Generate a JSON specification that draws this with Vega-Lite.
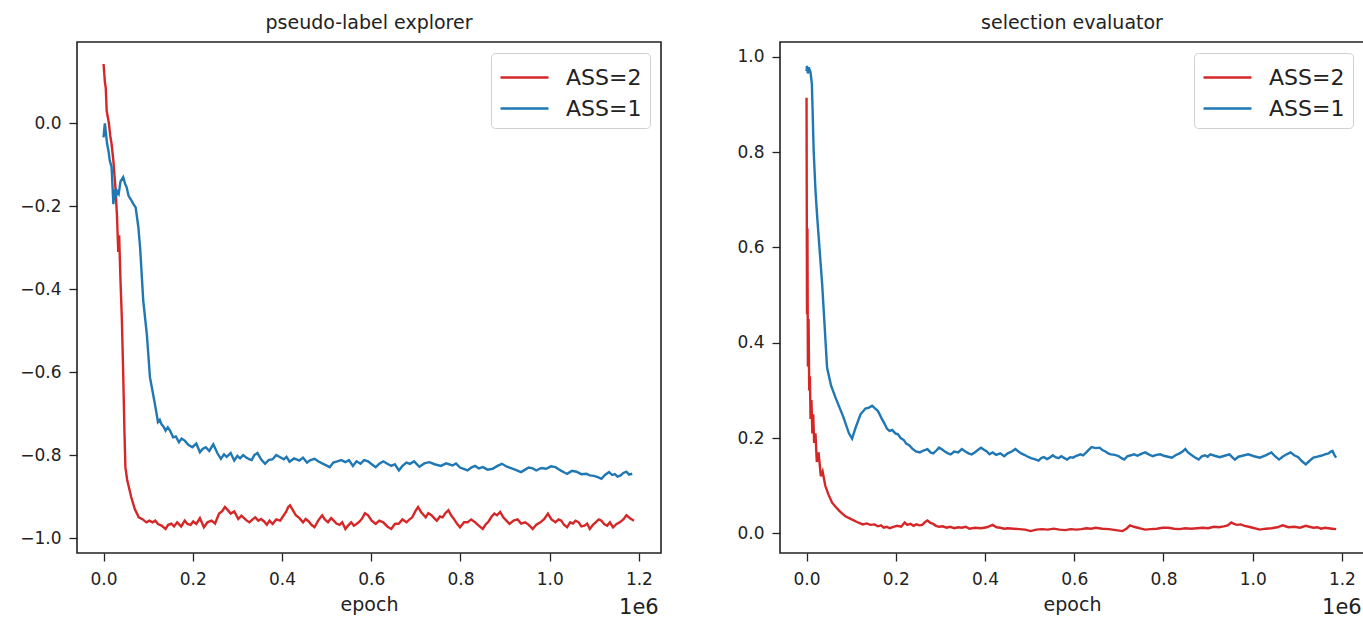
{
  "$schema": "https://vega.github.io/schema/vega-lite/v6.json",
  "background": "white",
  "padding": {"left": 18, "top": 13, "right": 0, "bottom": 0},
  "spacing": 74,
  "config": {
    "font": "DejaVu Sans",
    "view": {"stroke": "#222", "strokeWidth": 1.6},
    "axis": {
      "grid": false,
      "domain": false,
      "tickColor": "#222",
      "tickSize": 8,
      "tickWidth": 1.3,
      "labelPadding": 8,
      "labelFont": "DejaVu Sans",
      "labelFontSize": 17,
      "labelColor": "#222",
      "titleFont": "DejaVu Sans",
      "titleFontSize": 19,
      "titleFontWeight": "normal",
      "titleColor": "#222"
    },
    "axisX": {"labelPadding": 10},
    "title": {"font": "DejaVu Sans", "fontSize": 19, "fontWeight": "normal", "color": "#222", "offset": 9},
    "legend": {
      "orient": "top-right",
      "offset": 11,
      "title": null,
      "labelFont": "DejaVu Sans",
      "labelFontSize": 22,
      "labelColor": "#222",
      "strokeColor": "#d0d0d0",
      "fillColor": "white",
      "cornerRadius": 4,
      "padding": 8,
      "rowPadding": 3,
      "symbolType": "M-1.6,0H1.6",
      "symbolSize": 900,
      "symbolStrokeWidth": 2.6,
      "symbolOffset": 9,
      "labelOffset": 25
    }
  },
  "datasets": {
    "left": [
      {"series": "ASS=2", "epoch": 0, "value": 0.143},
      {"series": "ASS=2", "epoch": 3000, "value": 0.10},
      {"series": "ASS=2", "epoch": 5000, "value": 0.085},
      {"series": "ASS=2", "epoch": 7000, "value": 0.03},
      {"series": "ASS=2", "epoch": 12000, "value": 0.0},
      {"series": "ASS=2", "epoch": 15000, "value": -0.03},
      {"series": "ASS=2", "epoch": 18000, "value": -0.05},
      {"series": "ASS=2", "epoch": 22000, "value": -0.09},
      {"series": "ASS=2", "epoch": 26000, "value": -0.146},
      {"series": "ASS=2", "epoch": 30000, "value": -0.22},
      {"series": "ASS=2", "epoch": 33000, "value": -0.31},
      {"series": "ASS=2", "epoch": 35000, "value": -0.27},
      {"series": "ASS=2", "epoch": 38000, "value": -0.38},
      {"series": "ASS=2", "epoch": 41000, "value": -0.47},
      {"series": "ASS=2", "epoch": 44000, "value": -0.60},
      {"series": "ASS=2", "epoch": 47000, "value": -0.75},
      {"series": "ASS=2", "epoch": 49000, "value": -0.829},
      {"series": "ASS=2", "epoch": 53000, "value": -0.86},
      {"series": "ASS=2", "epoch": 62000, "value": -0.901},
      {"series": "ASS=2", "epoch": 70000, "value": -0.93},
      {"series": "ASS=2", "epoch": 79000, "value": -0.950},
      {"series": "ASS=2", "epoch": 88000, "value": -0.955},
      {"series": "ASS=2", "epoch": 96000, "value": -0.962},
      {"series": "ASS=2", "epoch": 103000, "value": -0.958},
      {"series": "ASS=2", "epoch": 110000, "value": -0.962},
      {"series": "ASS=2", "epoch": 116000, "value": -0.958},
      {"series": "ASS=2", "epoch": 122000, "value": -0.966},
      {"series": "ASS=2", "epoch": 130000, "value": -0.970},
      {"series": "ASS=2", "epoch": 139000, "value": -0.978},
      {"series": "ASS=2", "epoch": 145000, "value": -0.968},
      {"series": "ASS=2", "epoch": 152000, "value": -0.965},
      {"series": "ASS=2", "epoch": 158000, "value": -0.972},
      {"series": "ASS=2", "epoch": 165000, "value": -0.962},
      {"series": "ASS=2", "epoch": 174000, "value": -0.972},
      {"series": "ASS=2", "epoch": 182000, "value": -0.958},
      {"series": "ASS=2", "epoch": 188000, "value": -0.966},
      {"series": "ASS=2", "epoch": 195000, "value": -0.968},
      {"series": "ASS=2", "epoch": 201000, "value": -0.960},
      {"series": "ASS=2", "epoch": 208000, "value": -0.966},
      {"series": "ASS=2", "epoch": 216000, "value": -0.952},
      {"series": "ASS=2", "epoch": 225000, "value": -0.974},
      {"series": "ASS=2", "epoch": 233000, "value": -0.962},
      {"series": "ASS=2", "epoch": 242000, "value": -0.958},
      {"series": "ASS=2", "epoch": 250000, "value": -0.965},
      {"series": "ASS=2", "epoch": 259000, "value": -0.941},
      {"series": "ASS=2", "epoch": 266000, "value": -0.935},
      {"series": "ASS=2", "epoch": 272000, "value": -0.925},
      {"series": "ASS=2", "epoch": 278000, "value": -0.932},
      {"series": "ASS=2", "epoch": 285000, "value": -0.941},
      {"series": "ASS=2", "epoch": 293000, "value": -0.936},
      {"series": "ASS=2", "epoch": 302000, "value": -0.954},
      {"series": "ASS=2", "epoch": 309000, "value": -0.946},
      {"series": "ASS=2", "epoch": 315000, "value": -0.952},
      {"series": "ASS=2", "epoch": 321000, "value": -0.958},
      {"series": "ASS=2", "epoch": 327000, "value": -0.962},
      {"series": "ASS=2", "epoch": 334000, "value": -0.955},
      {"series": "ASS=2", "epoch": 340000, "value": -0.950},
      {"series": "ASS=2", "epoch": 347000, "value": -0.958},
      {"series": "ASS=2", "epoch": 353000, "value": -0.954},
      {"series": "ASS=2", "epoch": 360000, "value": -0.960},
      {"series": "ASS=2", "epoch": 366000, "value": -0.968},
      {"series": "ASS=2", "epoch": 372000, "value": -0.958},
      {"series": "ASS=2", "epoch": 379000, "value": -0.966},
      {"series": "ASS=2", "epoch": 387000, "value": -0.955},
      {"series": "ASS=2", "epoch": 396000, "value": -0.958},
      {"series": "ASS=2", "epoch": 402000, "value": -0.948},
      {"series": "ASS=2", "epoch": 409000, "value": -0.937},
      {"series": "ASS=2", "epoch": 414000, "value": -0.925},
      {"series": "ASS=2", "epoch": 418000, "value": -0.921},
      {"series": "ASS=2", "epoch": 424000, "value": -0.932},
      {"series": "ASS=2", "epoch": 431000, "value": -0.945},
      {"series": "ASS=2", "epoch": 439000, "value": -0.952},
      {"series": "ASS=2", "epoch": 447000, "value": -0.962},
      {"series": "ASS=2", "epoch": 453000, "value": -0.954},
      {"series": "ASS=2", "epoch": 460000, "value": -0.960},
      {"series": "ASS=2", "epoch": 466000, "value": -0.968},
      {"series": "ASS=2", "epoch": 473000, "value": -0.974},
      {"series": "ASS=2", "epoch": 481000, "value": -0.958},
      {"series": "ASS=2", "epoch": 490000, "value": -0.945},
      {"series": "ASS=2", "epoch": 496000, "value": -0.955},
      {"series": "ASS=2", "epoch": 503000, "value": -0.962},
      {"series": "ASS=2", "epoch": 510000, "value": -0.952},
      {"series": "ASS=2", "epoch": 516000, "value": -0.958},
      {"series": "ASS=2", "epoch": 522000, "value": -0.965},
      {"series": "ASS=2", "epoch": 529000, "value": -0.968},
      {"series": "ASS=2", "epoch": 535000, "value": -0.962},
      {"series": "ASS=2", "epoch": 542000, "value": -0.978},
      {"series": "ASS=2", "epoch": 548000, "value": -0.970},
      {"series": "ASS=2", "epoch": 555000, "value": -0.962},
      {"series": "ASS=2", "epoch": 561000, "value": -0.970},
      {"series": "ASS=2", "epoch": 567000, "value": -0.966},
      {"series": "ASS=2", "epoch": 574000, "value": -0.960},
      {"series": "ASS=2", "epoch": 580000, "value": -0.952},
      {"series": "ASS=2", "epoch": 586000, "value": -0.940},
      {"series": "ASS=2", "epoch": 593000, "value": -0.945},
      {"series": "ASS=2", "epoch": 601000, "value": -0.958},
      {"series": "ASS=2", "epoch": 610000, "value": -0.966},
      {"series": "ASS=2", "epoch": 618000, "value": -0.958},
      {"series": "ASS=2", "epoch": 627000, "value": -0.962},
      {"series": "ASS=2", "epoch": 636000, "value": -0.972},
      {"series": "ASS=2", "epoch": 645000, "value": -0.978},
      {"series": "ASS=2", "epoch": 653000, "value": -0.966},
      {"series": "ASS=2", "epoch": 662000, "value": -0.965},
      {"series": "ASS=2", "epoch": 670000, "value": -0.955},
      {"series": "ASS=2", "epoch": 679000, "value": -0.962},
      {"series": "ASS=2", "epoch": 686000, "value": -0.955},
      {"series": "ASS=2", "epoch": 692000, "value": -0.950},
      {"series": "ASS=2", "epoch": 699000, "value": -0.935},
      {"series": "ASS=2", "epoch": 705000, "value": -0.925},
      {"series": "ASS=2", "epoch": 712000, "value": -0.938},
      {"series": "ASS=2", "epoch": 722000, "value": -0.950},
      {"series": "ASS=2", "epoch": 728000, "value": -0.940},
      {"series": "ASS=2", "epoch": 735000, "value": -0.945},
      {"series": "ASS=2", "epoch": 741000, "value": -0.952},
      {"series": "ASS=2", "epoch": 747000, "value": -0.958},
      {"series": "ASS=2", "epoch": 754000, "value": -0.948},
      {"series": "ASS=2", "epoch": 760000, "value": -0.950},
      {"series": "ASS=2", "epoch": 766000, "value": -0.940},
      {"series": "ASS=2", "epoch": 773000, "value": -0.933},
      {"series": "ASS=2", "epoch": 779000, "value": -0.945},
      {"series": "ASS=2", "epoch": 786000, "value": -0.955},
      {"series": "ASS=2", "epoch": 792000, "value": -0.965},
      {"series": "ASS=2", "epoch": 799000, "value": -0.974},
      {"series": "ASS=2", "epoch": 808000, "value": -0.962},
      {"series": "ASS=2", "epoch": 816000, "value": -0.962},
      {"series": "ASS=2", "epoch": 824000, "value": -0.955},
      {"series": "ASS=2", "epoch": 833000, "value": -0.962},
      {"series": "ASS=2", "epoch": 841000, "value": -0.970},
      {"series": "ASS=2", "epoch": 850000, "value": -0.978},
      {"series": "ASS=2", "epoch": 856000, "value": -0.968},
      {"series": "ASS=2", "epoch": 863000, "value": -0.960},
      {"series": "ASS=2", "epoch": 870000, "value": -0.948},
      {"series": "ASS=2", "epoch": 876000, "value": -0.941},
      {"series": "ASS=2", "epoch": 882000, "value": -0.945},
      {"series": "ASS=2", "epoch": 889000, "value": -0.937},
      {"series": "ASS=2", "epoch": 896000, "value": -0.950},
      {"series": "ASS=2", "epoch": 903000, "value": -0.958},
      {"series": "ASS=2", "epoch": 910000, "value": -0.966},
      {"series": "ASS=2", "epoch": 919000, "value": -0.958},
      {"series": "ASS=2", "epoch": 928000, "value": -0.955},
      {"series": "ASS=2", "epoch": 936000, "value": -0.965},
      {"series": "ASS=2", "epoch": 945000, "value": -0.962},
      {"series": "ASS=2", "epoch": 953000, "value": -0.968},
      {"series": "ASS=2", "epoch": 962000, "value": -0.978},
      {"series": "ASS=2", "epoch": 970000, "value": -0.968},
      {"series": "ASS=2", "epoch": 979000, "value": -0.962},
      {"series": "ASS=2", "epoch": 987000, "value": -0.955},
      {"series": "ASS=2", "epoch": 996000, "value": -0.941},
      {"series": "ASS=2", "epoch": 1004000, "value": -0.955},
      {"series": "ASS=2", "epoch": 1013000, "value": -0.962},
      {"series": "ASS=2", "epoch": 1020000, "value": -0.955},
      {"series": "ASS=2", "epoch": 1026000, "value": -0.958},
      {"series": "ASS=2", "epoch": 1032000, "value": -0.968},
      {"series": "ASS=2", "epoch": 1039000, "value": -0.974},
      {"series": "ASS=2", "epoch": 1046000, "value": -0.962},
      {"series": "ASS=2", "epoch": 1052000, "value": -0.965},
      {"series": "ASS=2", "epoch": 1058000, "value": -0.958},
      {"series": "ASS=2", "epoch": 1065000, "value": -0.962},
      {"series": "ASS=2", "epoch": 1071000, "value": -0.972},
      {"series": "ASS=2", "epoch": 1078000, "value": -0.970},
      {"series": "ASS=2", "epoch": 1084000, "value": -0.965},
      {"series": "ASS=2", "epoch": 1090000, "value": -0.978},
      {"series": "ASS=2", "epoch": 1097000, "value": -0.968},
      {"series": "ASS=2", "epoch": 1103000, "value": -0.962},
      {"series": "ASS=2", "epoch": 1110000, "value": -0.955},
      {"series": "ASS=2", "epoch": 1116000, "value": -0.958},
      {"series": "ASS=2", "epoch": 1122000, "value": -0.966},
      {"series": "ASS=2", "epoch": 1129000, "value": -0.970},
      {"series": "ASS=2", "epoch": 1135000, "value": -0.962},
      {"series": "ASS=2", "epoch": 1142000, "value": -0.974},
      {"series": "ASS=2", "epoch": 1150000, "value": -0.966},
      {"series": "ASS=2", "epoch": 1157000, "value": -0.962},
      {"series": "ASS=2", "epoch": 1165000, "value": -0.955},
      {"series": "ASS=2", "epoch": 1172000, "value": -0.945},
      {"series": "ASS=2", "epoch": 1180000, "value": -0.952},
      {"series": "ASS=2", "epoch": 1189000, "value": -0.958},
      {"series": "ASS=1", "epoch": 0, "value": -0.034},
      {"series": "ASS=1", "epoch": 2000, "value": -0.01},
      {"series": "ASS=1", "epoch": 3000, "value": 0.0},
      {"series": "ASS=1", "epoch": 5000, "value": -0.02},
      {"series": "ASS=1", "epoch": 8000, "value": -0.05},
      {"series": "ASS=1", "epoch": 11000, "value": -0.066},
      {"series": "ASS=1", "epoch": 14000, "value": -0.09},
      {"series": "ASS=1", "epoch": 18000, "value": -0.106},
      {"series": "ASS=1", "epoch": 20000, "value": -0.15},
      {"series": "ASS=1", "epoch": 22000, "value": -0.195},
      {"series": "ASS=1", "epoch": 25000, "value": -0.16},
      {"series": "ASS=1", "epoch": 28000, "value": -0.18},
      {"series": "ASS=1", "epoch": 30000, "value": -0.163},
      {"series": "ASS=1", "epoch": 34000, "value": -0.17},
      {"series": "ASS=1", "epoch": 38000, "value": -0.14},
      {"series": "ASS=1", "epoch": 44000, "value": -0.13},
      {"series": "ASS=1", "epoch": 48000, "value": -0.145},
      {"series": "ASS=1", "epoch": 52000, "value": -0.155},
      {"series": "ASS=1", "epoch": 56000, "value": -0.175},
      {"series": "ASS=1", "epoch": 62000, "value": -0.185},
      {"series": "ASS=1", "epoch": 67000, "value": -0.195},
      {"series": "ASS=1", "epoch": 72000, "value": -0.203},
      {"series": "ASS=1", "epoch": 78000, "value": -0.25},
      {"series": "ASS=1", "epoch": 82000, "value": -0.30},
      {"series": "ASS=1", "epoch": 89000, "value": -0.428},
      {"series": "ASS=1", "epoch": 97000, "value": -0.508},
      {"series": "ASS=1", "epoch": 104000, "value": -0.612},
      {"series": "ASS=1", "epoch": 115000, "value": -0.676},
      {"series": "ASS=1", "epoch": 122000, "value": -0.720},
      {"series": "ASS=1", "epoch": 126000, "value": -0.715},
      {"series": "ASS=1", "epoch": 130000, "value": -0.726},
      {"series": "ASS=1", "epoch": 135000, "value": -0.732},
      {"series": "ASS=1", "epoch": 139000, "value": -0.741},
      {"series": "ASS=1", "epoch": 144000, "value": -0.733},
      {"series": "ASS=1", "epoch": 149000, "value": -0.741},
      {"series": "ASS=1", "epoch": 156000, "value": -0.757},
      {"series": "ASS=1", "epoch": 162000, "value": -0.755},
      {"series": "ASS=1", "epoch": 169000, "value": -0.769},
      {"series": "ASS=1", "epoch": 175000, "value": -0.760},
      {"series": "ASS=1", "epoch": 182000, "value": -0.765},
      {"series": "ASS=1", "epoch": 190000, "value": -0.775},
      {"series": "ASS=1", "epoch": 199000, "value": -0.781},
      {"series": "ASS=1", "epoch": 208000, "value": -0.772},
      {"series": "ASS=1", "epoch": 216000, "value": -0.793},
      {"series": "ASS=1", "epoch": 222000, "value": -0.785},
      {"series": "ASS=1", "epoch": 229000, "value": -0.781},
      {"series": "ASS=1", "epoch": 237000, "value": -0.790},
      {"series": "ASS=1", "epoch": 246000, "value": -0.774},
      {"series": "ASS=1", "epoch": 255000, "value": -0.795},
      {"series": "ASS=1", "epoch": 263000, "value": -0.809},
      {"series": "ASS=1", "epoch": 270000, "value": -0.798},
      {"series": "ASS=1", "epoch": 276000, "value": -0.804},
      {"series": "ASS=1", "epoch": 285000, "value": -0.795},
      {"series": "ASS=1", "epoch": 293000, "value": -0.813},
      {"series": "ASS=1", "epoch": 300000, "value": -0.802},
      {"series": "ASS=1", "epoch": 306000, "value": -0.808},
      {"series": "ASS=1", "epoch": 313000, "value": -0.800},
      {"series": "ASS=1", "epoch": 319000, "value": -0.805},
      {"series": "ASS=1", "epoch": 326000, "value": -0.810},
      {"series": "ASS=1", "epoch": 332000, "value": -0.812},
      {"series": "ASS=1", "epoch": 338000, "value": -0.800},
      {"series": "ASS=1", "epoch": 345000, "value": -0.795},
      {"series": "ASS=1", "epoch": 353000, "value": -0.810},
      {"series": "ASS=1", "epoch": 362000, "value": -0.821},
      {"series": "ASS=1", "epoch": 370000, "value": -0.812},
      {"series": "ASS=1", "epoch": 379000, "value": -0.810},
      {"series": "ASS=1", "epoch": 387000, "value": -0.800},
      {"series": "ASS=1", "epoch": 396000, "value": -0.805},
      {"series": "ASS=1", "epoch": 404000, "value": -0.810},
      {"series": "ASS=1", "epoch": 410000, "value": -0.804},
      {"series": "ASS=1", "epoch": 417000, "value": -0.816},
      {"series": "ASS=1", "epoch": 427000, "value": -0.808},
      {"series": "ASS=1", "epoch": 439000, "value": -0.813},
      {"series": "ASS=1", "epoch": 447000, "value": -0.806},
      {"series": "ASS=1", "epoch": 456000, "value": -0.818},
      {"series": "ASS=1", "epoch": 464000, "value": -0.812},
      {"series": "ASS=1", "epoch": 473000, "value": -0.809},
      {"series": "ASS=1", "epoch": 481000, "value": -0.815},
      {"series": "ASS=1", "epoch": 490000, "value": -0.820},
      {"series": "ASS=1", "epoch": 498000, "value": -0.824},
      {"series": "ASS=1", "epoch": 507000, "value": -0.829},
      {"series": "ASS=1", "epoch": 515000, "value": -0.818},
      {"series": "ASS=1", "epoch": 524000, "value": -0.815},
      {"series": "ASS=1", "epoch": 533000, "value": -0.812},
      {"series": "ASS=1", "epoch": 542000, "value": -0.817},
      {"series": "ASS=1", "epoch": 550000, "value": -0.812},
      {"series": "ASS=1", "epoch": 559000, "value": -0.826},
      {"series": "ASS=1", "epoch": 567000, "value": -0.815},
      {"series": "ASS=1", "epoch": 576000, "value": -0.821},
      {"series": "ASS=1", "epoch": 584000, "value": -0.812},
      {"series": "ASS=1", "epoch": 593000, "value": -0.815},
      {"series": "ASS=1", "epoch": 601000, "value": -0.822},
      {"series": "ASS=1", "epoch": 610000, "value": -0.829},
      {"series": "ASS=1", "epoch": 619000, "value": -0.820},
      {"series": "ASS=1", "epoch": 627000, "value": -0.815},
      {"series": "ASS=1", "epoch": 636000, "value": -0.821},
      {"series": "ASS=1", "epoch": 645000, "value": -0.826},
      {"series": "ASS=1", "epoch": 653000, "value": -0.822},
      {"series": "ASS=1", "epoch": 662000, "value": -0.837},
      {"series": "ASS=1", "epoch": 670000, "value": -0.826},
      {"series": "ASS=1", "epoch": 679000, "value": -0.818},
      {"series": "ASS=1", "epoch": 687000, "value": -0.821},
      {"series": "ASS=1", "epoch": 696000, "value": -0.815},
      {"series": "ASS=1", "epoch": 708000, "value": -0.828},
      {"series": "ASS=1", "epoch": 719000, "value": -0.820},
      {"series": "ASS=1", "epoch": 730000, "value": -0.817},
      {"series": "ASS=1", "epoch": 742000, "value": -0.822},
      {"series": "ASS=1", "epoch": 756000, "value": -0.826},
      {"series": "ASS=1", "epoch": 768000, "value": -0.820},
      {"series": "ASS=1", "epoch": 782000, "value": -0.825},
      {"series": "ASS=1", "epoch": 790000, "value": -0.820},
      {"series": "ASS=1", "epoch": 799000, "value": -0.830},
      {"series": "ASS=1", "epoch": 807000, "value": -0.833},
      {"series": "ASS=1", "epoch": 816000, "value": -0.837},
      {"series": "ASS=1", "epoch": 824000, "value": -0.830},
      {"series": "ASS=1", "epoch": 833000, "value": -0.826},
      {"series": "ASS=1", "epoch": 841000, "value": -0.832},
      {"series": "ASS=1", "epoch": 850000, "value": -0.829},
      {"series": "ASS=1", "epoch": 861000, "value": -0.835},
      {"series": "ASS=1", "epoch": 872000, "value": -0.833},
      {"series": "ASS=1", "epoch": 883000, "value": -0.826},
      {"series": "ASS=1", "epoch": 893000, "value": -0.821},
      {"series": "ASS=1", "epoch": 904000, "value": -0.828},
      {"series": "ASS=1", "epoch": 915000, "value": -0.832},
      {"series": "ASS=1", "epoch": 925000, "value": -0.836},
      {"series": "ASS=1", "epoch": 936000, "value": -0.841},
      {"series": "ASS=1", "epoch": 945000, "value": -0.835},
      {"series": "ASS=1", "epoch": 953000, "value": -0.830},
      {"series": "ASS=1", "epoch": 962000, "value": -0.832},
      {"series": "ASS=1", "epoch": 970000, "value": -0.837},
      {"series": "ASS=1", "epoch": 981000, "value": -0.831},
      {"series": "ASS=1", "epoch": 992000, "value": -0.833},
      {"series": "ASS=1", "epoch": 1003000, "value": -0.827},
      {"series": "ASS=1", "epoch": 1013000, "value": -0.829},
      {"series": "ASS=1", "epoch": 1020000, "value": -0.834},
      {"series": "ASS=1", "epoch": 1026000, "value": -0.838},
      {"series": "ASS=1", "epoch": 1033000, "value": -0.842},
      {"series": "ASS=1", "epoch": 1039000, "value": -0.845},
      {"series": "ASS=1", "epoch": 1050000, "value": -0.838},
      {"series": "ASS=1", "epoch": 1060000, "value": -0.840},
      {"series": "ASS=1", "epoch": 1071000, "value": -0.846},
      {"series": "ASS=1", "epoch": 1082000, "value": -0.845},
      {"series": "ASS=1", "epoch": 1090000, "value": -0.849},
      {"series": "ASS=1", "epoch": 1099000, "value": -0.850},
      {"series": "ASS=1", "epoch": 1108000, "value": -0.853},
      {"series": "ASS=1", "epoch": 1116000, "value": -0.857},
      {"series": "ASS=1", "epoch": 1124000, "value": -0.848},
      {"series": "ASS=1", "epoch": 1133000, "value": -0.841},
      {"series": "ASS=1", "epoch": 1140000, "value": -0.848},
      {"series": "ASS=1", "epoch": 1146000, "value": -0.846},
      {"series": "ASS=1", "epoch": 1152000, "value": -0.852},
      {"series": "ASS=1", "epoch": 1159000, "value": -0.849},
      {"series": "ASS=1", "epoch": 1165000, "value": -0.843},
      {"series": "ASS=1", "epoch": 1172000, "value": -0.840},
      {"series": "ASS=1", "epoch": 1178000, "value": -0.847},
      {"series": "ASS=1", "epoch": 1185000, "value": -0.845}
    ],
    "right": [
      {"series": "ASS=2", "epoch": 0, "value": 0.914},
      {"series": "ASS=2", "epoch": 1000, "value": 0.46},
      {"series": "ASS=2", "epoch": 2000, "value": 0.64},
      {"series": "ASS=2", "epoch": 3000, "value": 0.35},
      {"series": "ASS=2", "epoch": 4500, "value": 0.45},
      {"series": "ASS=2", "epoch": 6000, "value": 0.30},
      {"series": "ASS=2", "epoch": 7500, "value": 0.33},
      {"series": "ASS=2", "epoch": 9000, "value": 0.24},
      {"series": "ASS=2", "epoch": 11000, "value": 0.28},
      {"series": "ASS=2", "epoch": 13000, "value": 0.21},
      {"series": "ASS=2", "epoch": 15000, "value": 0.25},
      {"series": "ASS=2", "epoch": 17000, "value": 0.19},
      {"series": "ASS=2", "epoch": 20000, "value": 0.21},
      {"series": "ASS=2", "epoch": 23000, "value": 0.15},
      {"series": "ASS=2", "epoch": 27000, "value": 0.17},
      {"series": "ASS=2", "epoch": 32000, "value": 0.12},
      {"series": "ASS=2", "epoch": 36000, "value": 0.13},
      {"series": "ASS=2", "epoch": 42000, "value": 0.10},
      {"series": "ASS=2", "epoch": 49000, "value": 0.082},
      {"series": "ASS=2", "epoch": 57000, "value": 0.065},
      {"series": "ASS=2", "epoch": 65000, "value": 0.056},
      {"series": "ASS=2", "epoch": 74000, "value": 0.047},
      {"series": "ASS=2", "epoch": 87000, "value": 0.036},
      {"series": "ASS=2", "epoch": 100000, "value": 0.030},
      {"series": "ASS=2", "epoch": 113000, "value": 0.024},
      {"series": "ASS=2", "epoch": 126000, "value": 0.019},
      {"series": "ASS=2", "epoch": 135000, "value": 0.021},
      {"series": "ASS=2", "epoch": 143000, "value": 0.018},
      {"series": "ASS=2", "epoch": 152000, "value": 0.019},
      {"series": "ASS=2", "epoch": 160000, "value": 0.015},
      {"series": "ASS=2", "epoch": 167000, "value": 0.017},
      {"series": "ASS=2", "epoch": 173000, "value": 0.012},
      {"series": "ASS=2", "epoch": 180000, "value": 0.014},
      {"series": "ASS=2", "epoch": 186000, "value": 0.011},
      {"series": "ASS=2", "epoch": 195000, "value": 0.014},
      {"series": "ASS=2", "epoch": 203000, "value": 0.016},
      {"series": "ASS=2", "epoch": 212000, "value": 0.014},
      {"series": "ASS=2", "epoch": 220000, "value": 0.023},
      {"series": "ASS=2", "epoch": 226000, "value": 0.018},
      {"series": "ASS=2", "epoch": 233000, "value": 0.020},
      {"series": "ASS=2", "epoch": 240000, "value": 0.016},
      {"series": "ASS=2", "epoch": 246000, "value": 0.019},
      {"series": "ASS=2", "epoch": 253000, "value": 0.017},
      {"series": "ASS=2", "epoch": 259000, "value": 0.018},
      {"series": "ASS=2", "epoch": 266000, "value": 0.024},
      {"series": "ASS=2", "epoch": 271000, "value": 0.027},
      {"series": "ASS=2", "epoch": 278000, "value": 0.022},
      {"series": "ASS=2", "epoch": 284000, "value": 0.020},
      {"series": "ASS=2", "epoch": 290000, "value": 0.016},
      {"series": "ASS=2", "epoch": 297000, "value": 0.014},
      {"series": "ASS=2", "epoch": 305000, "value": 0.015},
      {"series": "ASS=2", "epoch": 314000, "value": 0.012},
      {"series": "ASS=2", "epoch": 322000, "value": 0.014},
      {"series": "ASS=2", "epoch": 331000, "value": 0.011},
      {"series": "ASS=2", "epoch": 340000, "value": 0.013},
      {"series": "ASS=2", "epoch": 348000, "value": 0.012},
      {"series": "ASS=2", "epoch": 357000, "value": 0.014},
      {"series": "ASS=2", "epoch": 365000, "value": 0.010},
      {"series": "ASS=2", "epoch": 378000, "value": 0.012},
      {"series": "ASS=2", "epoch": 391000, "value": 0.011},
      {"series": "ASS=2", "epoch": 404000, "value": 0.013},
      {"series": "ASS=2", "epoch": 417000, "value": 0.018},
      {"series": "ASS=2", "epoch": 426000, "value": 0.013},
      {"series": "ASS=2", "epoch": 434000, "value": 0.012},
      {"series": "ASS=2", "epoch": 443000, "value": 0.010},
      {"series": "ASS=2", "epoch": 451000, "value": 0.011},
      {"series": "ASS=2", "epoch": 464000, "value": 0.010},
      {"series": "ASS=2", "epoch": 477000, "value": 0.009},
      {"series": "ASS=2", "epoch": 490000, "value": 0.008},
      {"series": "ASS=2", "epoch": 502000, "value": 0.005},
      {"series": "ASS=2", "epoch": 515000, "value": 0.008},
      {"series": "ASS=2", "epoch": 528000, "value": 0.009},
      {"series": "ASS=2", "epoch": 541000, "value": 0.008},
      {"series": "ASS=2", "epoch": 554000, "value": 0.010},
      {"series": "ASS=2", "epoch": 567000, "value": 0.008},
      {"series": "ASS=2", "epoch": 580000, "value": 0.007},
      {"series": "ASS=2", "epoch": 592000, "value": 0.009},
      {"series": "ASS=2", "epoch": 605000, "value": 0.008},
      {"series": "ASS=2", "epoch": 616000, "value": 0.009},
      {"series": "ASS=2", "epoch": 627000, "value": 0.011},
      {"series": "ASS=2", "epoch": 638000, "value": 0.010},
      {"series": "ASS=2", "epoch": 648000, "value": 0.012},
      {"series": "ASS=2", "epoch": 663000, "value": 0.010},
      {"series": "ASS=2", "epoch": 678000, "value": 0.009},
      {"series": "ASS=2", "epoch": 693000, "value": 0.007},
      {"series": "ASS=2", "epoch": 708000, "value": 0.005},
      {"series": "ASS=2", "epoch": 717000, "value": 0.010},
      {"series": "ASS=2", "epoch": 725000, "value": 0.017},
      {"series": "ASS=2", "epoch": 734000, "value": 0.014},
      {"series": "ASS=2", "epoch": 742000, "value": 0.012},
      {"series": "ASS=2", "epoch": 750000, "value": 0.010},
      {"series": "ASS=2", "epoch": 759000, "value": 0.008},
      {"series": "ASS=2", "epoch": 772000, "value": 0.009},
      {"series": "ASS=2", "epoch": 785000, "value": 0.010},
      {"series": "ASS=2", "epoch": 798000, "value": 0.012},
      {"series": "ASS=2", "epoch": 811000, "value": 0.012},
      {"series": "ASS=2", "epoch": 824000, "value": 0.010},
      {"series": "ASS=2", "epoch": 836000, "value": 0.009},
      {"series": "ASS=2", "epoch": 849000, "value": 0.011},
      {"series": "ASS=2", "epoch": 862000, "value": 0.010},
      {"series": "ASS=2", "epoch": 875000, "value": 0.011},
      {"series": "ASS=2", "epoch": 888000, "value": 0.012},
      {"series": "ASS=2", "epoch": 900000, "value": 0.011},
      {"series": "ASS=2", "epoch": 913000, "value": 0.014},
      {"series": "ASS=2", "epoch": 924000, "value": 0.013},
      {"series": "ASS=2", "epoch": 935000, "value": 0.015},
      {"series": "ASS=2", "epoch": 944000, "value": 0.017},
      {"series": "ASS=2", "epoch": 952000, "value": 0.023},
      {"series": "ASS=2", "epoch": 958000, "value": 0.020},
      {"series": "ASS=2", "epoch": 965000, "value": 0.018},
      {"series": "ASS=2", "epoch": 973000, "value": 0.019},
      {"series": "ASS=2", "epoch": 982000, "value": 0.016},
      {"series": "ASS=2", "epoch": 991000, "value": 0.014},
      {"series": "ASS=2", "epoch": 1000000, "value": 0.012},
      {"series": "ASS=2", "epoch": 1008000, "value": 0.010},
      {"series": "ASS=2", "epoch": 1016000, "value": 0.008},
      {"series": "ASS=2", "epoch": 1029000, "value": 0.010},
      {"series": "ASS=2", "epoch": 1042000, "value": 0.011},
      {"series": "ASS=2", "epoch": 1055000, "value": 0.013},
      {"series": "ASS=2", "epoch": 1067000, "value": 0.017},
      {"series": "ASS=2", "epoch": 1080000, "value": 0.013},
      {"series": "ASS=2", "epoch": 1093000, "value": 0.014},
      {"series": "ASS=2", "epoch": 1106000, "value": 0.012},
      {"series": "ASS=2", "epoch": 1119000, "value": 0.016},
      {"series": "ASS=2", "epoch": 1127000, "value": 0.014},
      {"series": "ASS=2", "epoch": 1136000, "value": 0.012},
      {"series": "ASS=2", "epoch": 1145000, "value": 0.013},
      {"series": "ASS=2", "epoch": 1153000, "value": 0.010},
      {"series": "ASS=2", "epoch": 1162000, "value": 0.012},
      {"series": "ASS=2", "epoch": 1170000, "value": 0.011},
      {"series": "ASS=2", "epoch": 1178000, "value": 0.010},
      {"series": "ASS=2", "epoch": 1187000, "value": 0.009},
      {"series": "ASS=1", "epoch": 0, "value": 0.970},
      {"series": "ASS=1", "epoch": 1000, "value": 0.981},
      {"series": "ASS=1", "epoch": 3000, "value": 0.965},
      {"series": "ASS=1", "epoch": 5000, "value": 0.978},
      {"series": "ASS=1", "epoch": 9000, "value": 0.967},
      {"series": "ASS=1", "epoch": 12000, "value": 0.942},
      {"series": "ASS=1", "epoch": 16000, "value": 0.802},
      {"series": "ASS=1", "epoch": 20000, "value": 0.72},
      {"series": "ASS=1", "epoch": 24000, "value": 0.662},
      {"series": "ASS=1", "epoch": 35000, "value": 0.523},
      {"series": "ASS=1", "epoch": 46000, "value": 0.348},
      {"series": "ASS=1", "epoch": 55000, "value": 0.31},
      {"series": "ASS=1", "epoch": 65000, "value": 0.285},
      {"series": "ASS=1", "epoch": 83000, "value": 0.243},
      {"series": "ASS=1", "epoch": 95000, "value": 0.210},
      {"series": "ASS=1", "epoch": 102000, "value": 0.199},
      {"series": "ASS=1", "epoch": 110000, "value": 0.222},
      {"series": "ASS=1", "epoch": 121000, "value": 0.250},
      {"series": "ASS=1", "epoch": 132000, "value": 0.262},
      {"series": "ASS=1", "epoch": 140000, "value": 0.264},
      {"series": "ASS=1", "epoch": 147000, "value": 0.268},
      {"series": "ASS=1", "epoch": 154000, "value": 0.262},
      {"series": "ASS=1", "epoch": 160000, "value": 0.257},
      {"series": "ASS=1", "epoch": 168000, "value": 0.242},
      {"series": "ASS=1", "epoch": 175000, "value": 0.230},
      {"series": "ASS=1", "epoch": 180000, "value": 0.220},
      {"series": "ASS=1", "epoch": 186000, "value": 0.215},
      {"series": "ASS=1", "epoch": 192000, "value": 0.217},
      {"series": "ASS=1", "epoch": 199000, "value": 0.210},
      {"series": "ASS=1", "epoch": 205000, "value": 0.208},
      {"series": "ASS=1", "epoch": 211000, "value": 0.200},
      {"series": "ASS=1", "epoch": 218000, "value": 0.196},
      {"series": "ASS=1", "epoch": 224000, "value": 0.188},
      {"series": "ASS=1", "epoch": 230000, "value": 0.185},
      {"series": "ASS=1", "epoch": 237000, "value": 0.178},
      {"series": "ASS=1", "epoch": 245000, "value": 0.172},
      {"series": "ASS=1", "epoch": 254000, "value": 0.170},
      {"series": "ASS=1", "epoch": 262000, "value": 0.174},
      {"series": "ASS=1", "epoch": 271000, "value": 0.177},
      {"series": "ASS=1", "epoch": 278000, "value": 0.170},
      {"series": "ASS=1", "epoch": 284000, "value": 0.168},
      {"series": "ASS=1", "epoch": 291000, "value": 0.174},
      {"series": "ASS=1", "epoch": 297000, "value": 0.180},
      {"series": "ASS=1", "epoch": 304000, "value": 0.176},
      {"series": "ASS=1", "epoch": 310000, "value": 0.172},
      {"series": "ASS=1", "epoch": 317000, "value": 0.168},
      {"series": "ASS=1", "epoch": 323000, "value": 0.166},
      {"series": "ASS=1", "epoch": 331000, "value": 0.172},
      {"series": "ASS=1", "epoch": 340000, "value": 0.170},
      {"series": "ASS=1", "epoch": 348000, "value": 0.177},
      {"series": "ASS=1", "epoch": 356000, "value": 0.172},
      {"series": "ASS=1", "epoch": 363000, "value": 0.168},
      {"series": "ASS=1", "epoch": 370000, "value": 0.166},
      {"series": "ASS=1", "epoch": 377000, "value": 0.170},
      {"series": "ASS=1", "epoch": 384000, "value": 0.175},
      {"series": "ASS=1", "epoch": 391000, "value": 0.180},
      {"series": "ASS=1", "epoch": 397000, "value": 0.176},
      {"series": "ASS=1", "epoch": 404000, "value": 0.172},
      {"series": "ASS=1", "epoch": 410000, "value": 0.166},
      {"series": "ASS=1", "epoch": 417000, "value": 0.170},
      {"series": "ASS=1", "epoch": 425000, "value": 0.165},
      {"series": "ASS=1", "epoch": 434000, "value": 0.168},
      {"series": "ASS=1", "epoch": 443000, "value": 0.162},
      {"series": "ASS=1", "epoch": 451000, "value": 0.168},
      {"series": "ASS=1", "epoch": 460000, "value": 0.172},
      {"series": "ASS=1", "epoch": 468000, "value": 0.177},
      {"series": "ASS=1", "epoch": 475000, "value": 0.172},
      {"series": "ASS=1", "epoch": 481000, "value": 0.168},
      {"series": "ASS=1", "epoch": 488000, "value": 0.165},
      {"series": "ASS=1", "epoch": 494000, "value": 0.162},
      {"series": "ASS=1", "epoch": 503000, "value": 0.158},
      {"series": "ASS=1", "epoch": 511000, "value": 0.156},
      {"series": "ASS=1", "epoch": 520000, "value": 0.153},
      {"series": "ASS=1", "epoch": 526000, "value": 0.158},
      {"series": "ASS=1", "epoch": 532000, "value": 0.160},
      {"series": "ASS=1", "epoch": 539000, "value": 0.156},
      {"series": "ASS=1", "epoch": 545000, "value": 0.159},
      {"series": "ASS=1", "epoch": 552000, "value": 0.164},
      {"series": "ASS=1", "epoch": 558000, "value": 0.160},
      {"series": "ASS=1", "epoch": 565000, "value": 0.158},
      {"series": "ASS=1", "epoch": 571000, "value": 0.162},
      {"series": "ASS=1", "epoch": 578000, "value": 0.158},
      {"series": "ASS=1", "epoch": 584000, "value": 0.155},
      {"series": "ASS=1", "epoch": 591000, "value": 0.160},
      {"series": "ASS=1", "epoch": 597000, "value": 0.159},
      {"series": "ASS=1", "epoch": 605000, "value": 0.163},
      {"series": "ASS=1", "epoch": 614000, "value": 0.166},
      {"series": "ASS=1", "epoch": 620000, "value": 0.164},
      {"series": "ASS=1", "epoch": 627000, "value": 0.170},
      {"series": "ASS=1", "epoch": 633000, "value": 0.176},
      {"series": "ASS=1", "epoch": 639000, "value": 0.181},
      {"series": "ASS=1", "epoch": 648000, "value": 0.179},
      {"series": "ASS=1", "epoch": 657000, "value": 0.180},
      {"series": "ASS=1", "epoch": 663000, "value": 0.175},
      {"series": "ASS=1", "epoch": 670000, "value": 0.172},
      {"series": "ASS=1", "epoch": 676000, "value": 0.168},
      {"series": "ASS=1", "epoch": 682000, "value": 0.166},
      {"series": "ASS=1", "epoch": 691000, "value": 0.165},
      {"series": "ASS=1", "epoch": 700000, "value": 0.162},
      {"series": "ASS=1", "epoch": 706000, "value": 0.158},
      {"series": "ASS=1", "epoch": 712000, "value": 0.155},
      {"series": "ASS=1", "epoch": 719000, "value": 0.162},
      {"series": "ASS=1", "epoch": 727000, "value": 0.164},
      {"series": "ASS=1", "epoch": 734000, "value": 0.166},
      {"series": "ASS=1", "epoch": 742000, "value": 0.163},
      {"series": "ASS=1", "epoch": 750000, "value": 0.167},
      {"series": "ASS=1", "epoch": 759000, "value": 0.170},
      {"series": "ASS=1", "epoch": 767000, "value": 0.166},
      {"series": "ASS=1", "epoch": 776000, "value": 0.162},
      {"series": "ASS=1", "epoch": 784000, "value": 0.165},
      {"series": "ASS=1", "epoch": 793000, "value": 0.166},
      {"series": "ASS=1", "epoch": 801000, "value": 0.163},
      {"series": "ASS=1", "epoch": 810000, "value": 0.161},
      {"series": "ASS=1", "epoch": 819000, "value": 0.159},
      {"series": "ASS=1", "epoch": 827000, "value": 0.164},
      {"series": "ASS=1", "epoch": 836000, "value": 0.168},
      {"series": "ASS=1", "epoch": 843000, "value": 0.172},
      {"series": "ASS=1", "epoch": 849000, "value": 0.177},
      {"series": "ASS=1", "epoch": 855000, "value": 0.170},
      {"series": "ASS=1", "epoch": 862000, "value": 0.165},
      {"series": "ASS=1", "epoch": 870000, "value": 0.160},
      {"series": "ASS=1", "epoch": 879000, "value": 0.155},
      {"series": "ASS=1", "epoch": 886000, "value": 0.162},
      {"series": "ASS=1", "epoch": 893000, "value": 0.164},
      {"series": "ASS=1", "epoch": 899000, "value": 0.161},
      {"series": "ASS=1", "epoch": 905000, "value": 0.166},
      {"series": "ASS=1", "epoch": 915000, "value": 0.163},
      {"series": "ASS=1", "epoch": 926000, "value": 0.160},
      {"series": "ASS=1", "epoch": 937000, "value": 0.163},
      {"series": "ASS=1", "epoch": 948000, "value": 0.166},
      {"series": "ASS=1", "epoch": 954000, "value": 0.160},
      {"series": "ASS=1", "epoch": 960000, "value": 0.155},
      {"series": "ASS=1", "epoch": 968000, "value": 0.161},
      {"series": "ASS=1", "epoch": 977000, "value": 0.163},
      {"series": "ASS=1", "epoch": 990000, "value": 0.166},
      {"series": "ASS=1", "epoch": 1003000, "value": 0.162},
      {"series": "ASS=1", "epoch": 1016000, "value": 0.159},
      {"series": "ASS=1", "epoch": 1029000, "value": 0.164},
      {"series": "ASS=1", "epoch": 1042000, "value": 0.170},
      {"series": "ASS=1", "epoch": 1050000, "value": 0.162},
      {"series": "ASS=1", "epoch": 1059000, "value": 0.155},
      {"series": "ASS=1", "epoch": 1067000, "value": 0.161},
      {"series": "ASS=1", "epoch": 1076000, "value": 0.166},
      {"series": "ASS=1", "epoch": 1085000, "value": 0.170},
      {"series": "ASS=1", "epoch": 1093000, "value": 0.164},
      {"series": "ASS=1", "epoch": 1102000, "value": 0.160},
      {"series": "ASS=1", "epoch": 1110000, "value": 0.152},
      {"series": "ASS=1", "epoch": 1119000, "value": 0.145},
      {"series": "ASS=1", "epoch": 1127000, "value": 0.152},
      {"series": "ASS=1", "epoch": 1136000, "value": 0.159},
      {"series": "ASS=1", "epoch": 1145000, "value": 0.161},
      {"series": "ASS=1", "epoch": 1153000, "value": 0.163},
      {"series": "ASS=1", "epoch": 1162000, "value": 0.166},
      {"series": "ASS=1", "epoch": 1170000, "value": 0.168},
      {"series": "ASS=1", "epoch": 1175000, "value": 0.172},
      {"series": "ASS=1", "epoch": 1179000, "value": 0.173},
      {"series": "ASS=1", "epoch": 1183000, "value": 0.165},
      {"series": "ASS=1", "epoch": 1187000, "value": 0.159}
    ],
    "offsetLabel": [{"epoch": 1200000, "label": "1e6"}]
  },
  "resolve": {"scale": {"color": "independent"}, "legend": {"color": "independent"}},
  "hconcat": [
    {
      "width": 584,
      "height": 511,
      "title": {"text": "pseudo-label explorer"},
      "layer": [
        {
          "data": {"name": "left"},
          "transform": [{"filter": "datum.series === 'ASS=2'"}],
          "mark": {"type": "line", "strokeWidth": 2.4, "clip": true},
          "encoding": {
            "x": {"field": "epoch", "type": "quantitative", "scale": {"domain": [-59500, 1249500], "nice": false, "zero": false},
                  "axis": {"title": "epoch", "values": [0, 200000, 400000, 600000, 800000, 1000000, 1200000], "labelExpr": "format(datum.value / 1000000, '.1f')", "titlePadding": 8}},
            "y": {"field": "value", "type": "quantitative", "scale": {"domain": [-1.036, 0.196], "nice": false, "zero": false},
                  "axis": {"title": null, "values": [-1.0, -0.8, -0.6, -0.4, -0.2, 0.0], "labelExpr": "replace(format(datum.value, '.1f'), '-', '−')"}},
            "color": {"field": "series", "type": "nominal", "scale": {"domain": ["ASS=2", "ASS=1"], "range": ["#d62728", "#1f77b4"]}, "legend": {}}
          }
        },
        {
          "data": {"name": "left"},
          "transform": [{"filter": "datum.series === 'ASS=1'"}],
          "mark": {"type": "line", "strokeWidth": 2.4, "clip": true},
          "encoding": {
            "x": {"field": "epoch", "type": "quantitative"},
            "y": {"field": "value", "type": "quantitative"},
            "color": {"field": "series", "type": "nominal"}
          }
        },
        {
          "data": {"name": "offsetLabel"},
          "mark": {"type": "text", "fontSize": 21, "font": "DejaVu Sans", "color": "#222", "dy": 55, "align": "center", "baseline": "middle"},
          "encoding": {
            "x": {"field": "epoch", "type": "quantitative"},
            "y": {"datum": -1.036, "type": "quantitative"},
            "text": {"field": "label"}
          }
        }
      ]
    },
    {
      "width": 584,
      "height": 511,
      "title": {"text": "selection evaluator"},
      "layer": [
        {
          "data": {"name": "right"},
          "transform": [{"filter": "datum.series === 'ASS=2'"}],
          "mark": {"type": "line", "strokeWidth": 2.4, "clip": true},
          "encoding": {
            "x": {"field": "epoch", "type": "quantitative", "scale": {"domain": [-59500, 1249500], "nice": false, "zero": false},
                  "axis": {"title": "epoch", "values": [0, 200000, 400000, 600000, 800000, 1000000, 1200000], "labelExpr": "format(datum.value / 1000000, '.1f')", "titlePadding": 8}},
            "y": {"field": "value", "type": "quantitative", "scale": {"domain": [-0.041, 1.031], "nice": false, "zero": false},
                  "axis": {"title": null, "values": [0.0, 0.2, 0.4, 0.6, 0.8, 1.0], "labelExpr": "format(datum.value, '.1f')"}},
            "color": {"field": "series", "type": "nominal", "scale": {"domain": ["ASS=2", "ASS=1"], "range": ["#d62728", "#1f77b4"]}, "legend": {}}
          }
        },
        {
          "data": {"name": "right"},
          "transform": [{"filter": "datum.series === 'ASS=1'"}],
          "mark": {"type": "line", "strokeWidth": 2.4, "clip": true},
          "encoding": {
            "x": {"field": "epoch", "type": "quantitative"},
            "y": {"field": "value", "type": "quantitative"},
            "color": {"field": "series", "type": "nominal"}
          }
        },
        {
          "data": {"name": "offsetLabel"},
          "mark": {"type": "text", "fontSize": 21, "font": "DejaVu Sans", "color": "#222", "dy": 55, "align": "center", "baseline": "middle"},
          "encoding": {
            "x": {"field": "epoch", "type": "quantitative"},
            "y": {"datum": -0.041, "type": "quantitative"},
            "text": {"field": "label"}
          }
        }
      ]
    }
  ]
}
